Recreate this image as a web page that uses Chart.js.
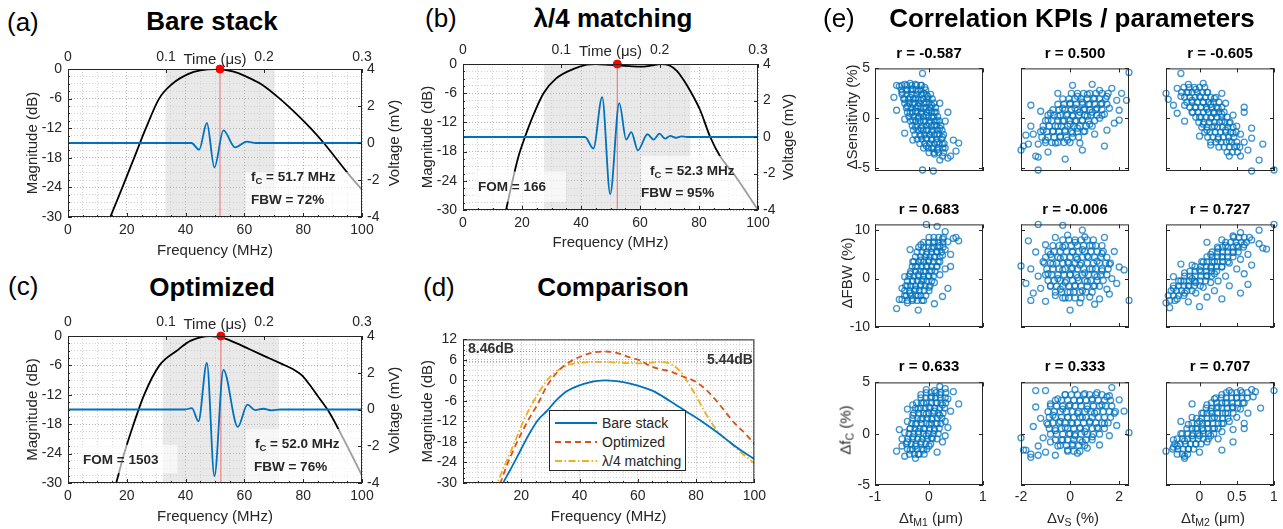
<!DOCTYPE html>
<html><head><meta charset="utf-8">
<script src="https://cdn.jsdelivr.net/npm/chart.js@4.4.1/dist/chart.umd.min.js"></script>
<style>
body{margin:0;width:1283px;height:529px;background:#fff;position:relative;overflow:hidden;font-family:"Liberation Sans",Arial,Helvetica,sans-serif;}
canvas{position:absolute;}
.t{position:absolute;white-space:nowrap;color:#262626;line-height:1;}
.ttl{font-weight:bold;font-size:26px;color:#000;transform:translate(-50%,-50%);}
.let{font-size:26px;color:#000;transform:translateY(-50%);}
.lab{font-size:15px;font-weight:normal;transform:translate(-50%,-50%);}
.rot{transform:translate(-50%,-50%) rotate(-90deg);}
.ann{font-weight:bold;font-size:13.5px;transform:translateY(-50%);}
.rr{font-weight:bold;font-size:15px;color:#000;transform:translate(-50%,-50%);}
sub{font-size:70%;vertical-align:-0.3em;line-height:0;}
#leg{position:absolute;background:#fff;border:1px solid #262626;box-sizing:border-box;}
#leg .row{position:absolute;left:0;height:18px;font-size:14px;color:#262626;line-height:18px;white-space:nowrap;}
#leg svg{position:absolute;left:5px;top:4px;}
#leg span{position:absolute;left:52px;top:0;}
</style></head>
<body>
<script>
// ================= DATA =================
// (a) Bare stack
const fBare  = [12.5, 14.4, 18.5, 22.5, 26.5, 31, 35.5, 41, 45, 50, 56, 60.5, 65.5, 72, 77.5, 82.5, 87, 91, 95, 100];
const dbBare = [-33, -30, -24, -18, -12, -6, -3, -1, -0.3, 0, -0.5, -1.5, -3, -6, -9, -12, -15, -18, -21, -24.5];
const tBare  = [0, 0.126, 0.1338, 0.1417, 0.1494, 0.1586, 0.1705, 0.1824, 0.192, 0.3];
const vBare  = [0, 0, -0.36, 1.08, -1.32, 0.68, -0.24, 0.07, 0, 0];
const fcBare = 51.7, bandBare = [33.1, 70.3];
// (b) lambda/4 matching
const fQw  = [12.5, 14.6, 16.6, 18.8, 21, 23.5, 27.3, 31.5, 37.5, 42, 45, 50, 55, 60, 64, 67, 70, 72.5, 75, 77, 80.4, 83.8, 87.2, 91.7, 96.3, 100];
const dbQw = [-36, -30, -24.5, -19, -15, -11, -6, -3, -1, -0.15, 0, -0.2, -0.4, -0.55, -0.3, 0, -0.3, -1.4, -3.5, -5.5, -9.5, -15, -19, -22.5, -26.6, -30];
const tQw  = [0, 0.124, 0.1326, 0.1415, 0.1497, 0.1589, 0.166, 0.1711, 0.1779, 0.1876, 0.1937, 0.1998, 0.2056, 0.2107, 0.2165, 0.222, 0.228, 0.3];
const vQw  = [0, 0, -0.63, 2.19, -3.13, 1.86, -0.14, 0.27, -0.73, 0.15, -0.14, 0.18, -0.09, 0.06, -0.04, 0.03, 0, 0];
const fcQw = 52.3, bandQw = [27.45, 77.1];
// (c) Optimized
const fOpt  = [14, 16.4, 19.1, 22.3, 25.9, 31.1, 37, 41.6, 48.3, 53.2, 57, 61.4, 67.6, 72.7, 76.6, 79.5, 82, 85, 89.1, 93.7, 97.1, 100];
const dbOpt = [-35, -30, -24, -18, -12, -6, -3, -1, 0, -0.5, -1.4, -2.6, -4.3, -5.7, -6.8, -8, -9.8, -12.3, -15.8, -21, -25, -28.5];
const tOpt  = [0, 0.1196, 0.1264, 0.1331, 0.1417, 0.1494, 0.1586, 0.1733, 0.1831, 0.1909, 0.1994, 0.208, 0.2165, 0.3];
const vOpt  = [0, 0, 0.08, -0.64, 2.53, -3.62, 2.16, -0.95, 0.26, -0.03, 0.04, -0.05, 0, 0];
const fcOpt = 52.0, bandOpt = [32.2, 71.8];
// (d) Comparison
const fCmpBare = [12, 13.8, 16, 18.5, 22.5, 25.6, 28.9, 31.5, 35.6, 41.5, 49, 55, 60, 65, 71, 76.5, 82, 87, 91.5, 96, 100];
const dbCmpBare = [-34, -30, -26.5, -22.5, -16, -11.7, -8.85, -6.3, -3.2, -1, 0, -0.5, -1.5, -3, -6, -9, -12, -15, -18, -20.8, -23];
const fCmpOpt = [11, 12.9, 15, 17.5, 20, 22.8, 25.6, 28.9, 33, 37, 41.6, 45, 49, 53, 57, 61, 64, 68, 71, 75, 79.5, 84, 88.4, 92.9, 97.4, 100];
const dbCmpOpt = [-36, -30, -25, -20, -15.5, -11, -7, -1.5, 3, 5.6, 7.4, 8.2, 8.46, 8, 6.8, 5.8, 4.3, 3.2, 2.7, 1.3, -0.2, -3.2, -7.4, -12.2, -16, -18.6];
const fCmpQw = [10, 11.9, 14, 16.5, 19, 21.1, 25.6, 28.9, 31.5, 36, 42, 47, 52, 57, 62, 67, 70, 72.5, 75, 77.5, 80, 82.5, 85, 88, 92, 96, 100];
const dbCmpQw = [-36, -30, -25.5, -20.5, -15.5, -11.2, -4.1, 0.1, 2.3, 4.5, 5.3, 5.44, 5.25, 5.05, 5.0, 5.4, 5.2, 4.2, 2.2, -1, -4.5, -8.5, -12, -15.5, -18.5, -21.5, -24.2];
const peakOpt = 8.46, peakQw = 5.44;
const seriesNames = ['Bare stack', 'Optimized', '\u03bb/4 matching'];
// tick labels
const fMajor = [0, 20, 40, 60, 80, 100];
const tMajor = [0, 0.1, 0.2, 0.3];
const vMajor = [-4, -2, 0, 2, 4];
const dbMajor = [-30, -24, -18, -12, -6, 0];
const dbMajorCmp = [-30, -24, -18, -12, -6, 0, 6, 12];
const fMinorStep = 5, dbMinorStep = 1.5;

// (e) scatter, scattered points: flat [x, y, x, y, ...]
const sSensM1 = [-0.55,3.2,-0.45,3.4,-0.35,3.5,-0.25,3.4,-0.15,3.3,-0.08,3.1,-0.5,2.6,-0.4,2.8,-0.3,2.9,-0.2,2.7,-0.1,2.5,-0.02,2.2,
-0.45,1.9,-0.35,2.1,-0.25,2.0,-0.15,1.8,-0.05,1.6,0.05,1.3,-0.4,1.2,-0.3,1.4,-0.2,1.2,-0.1,1.0,0.0,0.8,0.1,0.6,
-0.35,0.5,-0.25,0.7,-0.15,0.4,-0.05,0.3,0.05,0.1,0.15,-0.2,-0.3,-0.2,-0.2,0.0,-0.1,-0.3,0.0,-0.5,0.1,-0.7,0.2,-1.0,
-0.25,-0.9,-0.15,-1.0,-0.05,-1.2,0.05,-1.4,0.15,-1.6,0.25,-1.9,-0.15,-1.8,-0.05,-2.0,0.05,-2.2,0.15,-2.4,0.25,-2.6,
-0.05,-2.8,0.05,-3.0,0.15,-3.2,0.3,-3.0,0.1,-3.6,0.25,-3.8,-0.12,4.5,-0.65,2.1,-0.6,0.8,-0.45,-0.1,-0.3,-2.2,0.35,0.6,
0.3,-0.3,0.45,-2.2,0.55,-2.5,0.5,-3.3,0.4,-3.8,0.2,-4.2,-0.12,-5.2,0.08,-5.3,-0.6,3.3,0.2,1.5,-0.45,-1.5,0.35,-4.0];
const sSensVs = [-2.0,-3.2,-1.8,-1.7,-1.7,-2.6,-1.6,-0.8,-1.4,-3.8,-1.5,-1.6,-1.3,-2.6,-1.2,0.7,-1.1,-1.2,-1.0,-2.2,-0.9,-0.2,-0.9,-3.4,
-0.8,0.5,-0.7,-1.3,-0.6,-2.5,-0.5,0.2,-0.5,-0.8,-0.4,-1.8,-0.3,1.0,-0.3,-0.3,-0.2,-1.2,-0.1,0.4,-0.1,-2.2,0.0,1.5,
0.0,-0.6,0.1,0.2,0.1,-1.5,0.2,1.0,0.2,-0.3,0.3,2.2,0.3,-1.0,0.4,0.6,0.4,-2.5,0.5,1.6,0.5,-0.2,0.6,0.9,0.6,-1.3,
0.7,2.4,0.7,0.2,0.8,1.4,0.8,-0.6,0.9,0.6,1.0,2.0,1.0,-1.6,1.1,1.0,1.2,0.0,1.2,2.8,1.3,1.5,1.4,0.4,1.5,-1.2,
1.5,2.2,1.6,1.0,1.7,3.0,1.8,-0.5,1.9,1.8,2.0,0.8,2.1,2.5,2.3,1.8,2.4,4.6,-1.3,-3.9,-1.3,-5.2,-0.5,2.5,0.1,3.3,
0.9,3.4,1.4,-2.8,0.5,-3.2,-1.6,1.3,-0.2,-4.1,2.0,-0.2,-1.9,-2.8];
const sSensM2 = [-0.45,2.5,-0.35,1.3,-0.3,3.0,-0.25,2.2,-0.2,1.3,-0.15,3.4,-0.15,2.6,-0.1,1.8,-0.1,0.6,-0.05,2.9,-0.05,1.1,0.0,2.2,
0.0,0.1,0.05,1.6,0.05,-0.6,0.1,2.6,0.1,0.9,0.1,-1.2,0.15,1.4,0.15,0.0,0.2,2.0,0.2,0.5,0.2,-0.8,0.25,-2.1,0.25,1.0,
0.3,-0.3,0.3,0.4,0.35,-1.2,0.35,1.5,0.4,-0.5,0.4,-2.3,0.45,0.3,0.45,-1.5,0.5,-0.8,0.5,-2.8,0.55,-1.6,0.6,0.6,
0.6,-2.4,0.65,-3.2,0.7,-1.0,0.7,-2.0,-0.3,0.5,-0.2,-0.3,0.0,-1.8,0.05,3.5,0.3,2.5,0.4,-3.8,0.8,-4.2,0.85,-2.6,
0.7,-5.3,1.0,-5.2,-0.25,4.5,-0.42,1.9,0.6,1.1,0.15,-2.7,0.55,-3.8];
const sFbwM1 = [-0.6,-6.2,-0.55,-4.3,-0.5,-2.0,-0.45,-3.5,-0.45,0.4,-0.4,-5.0,-0.4,-1.5,-0.35,-3.0,-0.35,1.0,-0.3,-4.2,-0.3,-0.5,-0.25,-2.2,
-0.25,2.5,-0.2,-3.5,-0.2,0.8,-0.15,-1.2,-0.15,3.8,-0.1,-4.5,-0.1,1.5,-0.1,-0.2,-0.05,5.0,-0.05,2.6,0.0,-1.8,0.0,0.5,
0.0,3.8,0.05,6.2,0.05,1.6,0.1,-0.8,0.1,4.5,0.1,7.6,0.15,2.5,0.15,5.6,0.2,0.8,0.2,3.5,0.2,6.8,0.25,8.2,0.25,4.8,
0.3,2.0,0.3,6.0,0.35,7.6,0.4,5.0,0.45,8.3,-0.05,11.2,0.15,10.8,0.55,7.8,0.5,8.5,-0.35,6.0,0.1,-5.2,-0.2,-6.5,0.35,-2.0,
-0.5,-4.3,0.3,9.7,-0.3,3.5,0.25,-3.7,-0.15,7.0,0.4,2.5];
const sFbwVs = [-2.0,2.6,-1.8,-1.0,-1.6,2.0,-1.5,-3.0,-1.4,5.5,-1.3,0.5,-1.2,-2.0,-1.1,3.5,-1.0,-4.7,-1.0,7.0,-0.9,1.0,-0.8,-1.5,
-0.8,5.0,-0.7,3.0,-0.6,-3.5,-0.6,8.5,-0.5,0.0,-0.4,4.2,-0.4,-2.2,-0.3,6.5,-0.3,1.8,-0.2,-4.0,-0.2,-0.8,-0.1,3.4,
-0.1,9.0,0.0,0.8,0.0,-2.8,0.1,5.5,0.1,2.2,0.2,-1.4,0.2,7.5,0.3,0.2,0.3,4.0,0.4,-5.0,0.4,2.8,0.5,6.0,0.5,-2.5,
0.6,1.2,0.6,8.6,0.7,-0.6,0.7,4.6,0.8,-3.8,0.9,2.0,0.9,6.8,1.0,-1.5,1.1,3.6,1.1,0.4,1.2,-4.2,1.3,5.2,1.3,1.6,
1.4,8.5,1.5,-2.2,1.6,3.0,1.7,0.0,1.8,5.6,1.9,-1.0,2.0,2.4,2.2,1.8,2.4,-4.5,-1.3,11.2,-0.3,11.0,0.5,10.0,-1.6,-4.5,
0.0,-6.5,1.0,-5.3,1.6,-3.2,-1.7,7.8];
const sFbwM2 = [-0.45,-5.0,-0.35,-2.0,-0.3,-4.2,-0.25,-0.5,-0.2,-3.0,-0.2,1.2,-0.15,-4.8,-0.15,-1.5,-0.1,0.0,-0.1,2.8,-0.05,-3.0,-0.05,-0.8,
0.0,1.8,0.0,-5.8,0.05,-1.8,0.05,3.4,0.1,0.6,0.1,-3.8,0.15,2.2,0.15,5.0,0.15,-0.8,0.2,-2.5,0.2,3.5,0.2,1.0,0.25,6.2,
0.25,-0.5,0.3,2.4,0.3,4.5,0.3,8.0,0.35,0.5,0.35,6.8,0.4,3.2,0.4,-1.5,0.45,5.4,0.45,8.8,0.5,2.0,0.5,6.8,0.55,4.0,
0.55,9.5,0.6,7.0,0.6,1.0,0.65,5.0,0.65,-1.2,0.7,8.0,0.8,10.0,0.85,6.3,0.9,6.1,1.0,11.2,0.8,7.2,-0.4,-6.0,0.3,-4.2,
0.7,2.8,-0.25,3.0,0.1,7.5,0.55,-3.0,-0.35,0.4];
const sFcM1 = [-0.6,-1.7,-0.55,0.4,-0.5,-1.2,-0.45,-2.2,-0.45,0.1,-0.4,-0.8,-0.4,1.2,-0.35,-1.6,-0.35,0.5,-0.3,-0.3,-0.3,1.8,-0.25,-1.2,
-0.25,0.9,-0.2,-2.0,-0.2,0.2,-0.2,2.4,-0.15,-0.8,-0.15,1.4,-0.1,0.5,-0.1,3.0,-0.1,-1.6,-0.05,1.9,-0.05,-0.2,0.0,2.6,
0.0,0.9,0.0,-1.2,0.05,3.6,0.05,1.4,0.05,-0.4,0.1,2.2,0.1,0.3,0.1,4.2,0.15,3.0,0.15,1.0,0.2,3.8,0.2,1.8,0.25,-0.8,
0.25,2.8,0.3,4.4,0.3,1.2,0.35,3.4,0.4,2.2,0.45,4.1,0.55,2.9,-0.3,2.8,-0.05,4.3,-0.25,-2.4,0.15,-1.8,-0.5,-0.5,0.3,-0.2,
0.2,4.6,-0.4,2.4,0.35,0.6,-0.15,3.8];
const sFcVs = [-2.0,-0.4,-1.8,-1.6,-1.6,-2.0,-1.5,0.7,-1.4,2.6,-1.3,-1.2,-1.2,1.5,-1.1,-0.4,-1.0,4.2,-1.0,-1.8,-0.9,0.9,-0.8,2.9,
-0.8,-0.8,-0.7,1.8,-0.6,-2.1,-0.6,0.3,-0.5,3.4,-0.5,-1.2,-0.4,1.2,-0.3,2.4,-0.3,-0.6,-0.2,0.6,-0.2,3.8,-0.1,-1.6,
-0.1,1.6,0.0,0.0,0.0,2.8,0.1,-1.0,0.1,1.0,0.2,4.3,0.2,-0.2,0.3,2.0,0.3,-1.9,0.4,0.6,0.4,3.2,0.5,-0.8,0.5,1.6,
0.6,3.9,0.6,0.2,0.7,2.4,0.7,-1.4,0.8,1.2,0.9,3.4,0.9,-0.3,1.0,2.0,1.1,0.6,1.1,4.0,1.2,-1.1,1.3,2.8,1.4,1.0,
1.5,3.6,1.6,-0.2,1.7,4.5,1.8,2.0,1.9,0.8,2.0,3.3,2.2,2.2,2.4,0.1,-1.9,-1.6,-1.4,4.2,-1.6,-2.3,1.6,3.7,-1.3,-2.1];
const sFcM2 = [-0.45,-1.7,-0.35,-0.6,-0.3,-1.2,-0.25,0.0,-0.2,-2.2,-0.2,-0.7,-0.15,0.9,-0.15,-1.5,-0.1,-0.2,-0.1,1.6,-0.05,-1.0,-0.05,0.5,
0.0,-1.8,0.0,1.2,0.0,-0.2,0.05,2.0,0.05,0.3,0.1,-0.8,0.1,2.8,0.1,1.0,0.15,-0.2,0.15,2.2,0.2,0.5,0.2,3.4,0.2,1.6,
0.25,-0.5,0.25,2.6,0.3,1.0,0.3,3.8,0.3,0.2,0.35,2.0,0.35,3.0,0.4,1.2,0.4,4.2,0.45,2.6,0.45,0.4,0.5,3.5,0.5,1.6,
0.55,4.2,0.55,2.4,0.6,3.0,0.6,1.0,0.65,2.0,0.7,4.3,0.72,3.6,0.82,2.5,1.0,4.2,0.75,4.1,-0.2,-2.4,-0.1,2.9,0.6,0.5,
-0.25,1.2,0.3,-1.6,0.45,-0.8,-0.35,-1.3];

// (e) dense cores, read row by row: [y, x1, x2, ...]
const coreSensM1 = [[3.3,-0.5,-0.41,-0.32,-0.23,-0.14],[2.85,-0.51,-0.42,-0.33,-0.24,-0.15,-0.06],[2.4,-0.5,-0.41,-0.32,-0.23,-0.14,-0.05,0.03],
[1.95,-0.47,-0.38,-0.29,-0.2,-0.11,-0.02,0.06],[1.5,-0.45,-0.36,-0.27,-0.18,-0.09,0.0,0.09],[1.05,-0.42,-0.33,-0.24,-0.15,-0.06,0.03,0.12],
[0.6,-0.4,-0.31,-0.22,-0.13,-0.04,0.05,0.13],[0.15,-0.37,-0.28,-0.19,-0.1,-0.01,0.08,0.16],[-0.3,-0.34,-0.25,-0.16,-0.07,0.02,0.11,0.19],
[-0.75,-0.31,-0.22,-0.13,-0.04,0.05,0.14,0.22],[-1.2,-0.29,-0.2,-0.11,-0.02,0.07,0.16,0.24],[-1.65,-0.26,-0.17,-0.08,0.01,0.1,0.19,0.27],
[-2.1,-0.22,-0.13,-0.04,0.05,0.14,0.23],[-2.55,-0.17,-0.08,0.01,0.1,0.19,0.28],[-3.0,-0.1,-0.01,0.08,0.17,0.26],[-3.45,0.0,0.09,0.18,0.27]];
const coreSensVs = [[2.5,0.05,0.3,0.55,0.8,1.05,1.3,1.55],[1.95,-0.3,-0.05,0.2,0.45,0.7,0.95,1.2,1.45],[1.4,-0.5,-0.25,0.0,0.25,0.5,0.75,1.0,1.25,1.5],
[0.85,-0.7,-0.45,-0.2,0.05,0.3,0.55,0.8,1.05,1.3],[0.3,-0.9,-0.65,-0.4,-0.15,0.1,0.35,0.6,0.85,1.1,1.3],[-0.25,-1.0,-0.75,-0.5,-0.25,0.0,0.25,0.5,0.75,1.0],
[-0.8,-1.1,-0.85,-0.6,-0.35,-0.1,0.15,0.4,0.65,0.9],[-1.35,-1.2,-0.95,-0.7,-0.45,-0.2,0.05,0.3,0.55],[-1.9,-1.15,-0.9,-0.65,-0.4,-0.15,0.1,0.35],
[-2.45,-1.0,-0.75,-0.5,-0.25,0.0]];
const coreSensM2 = [[3.1,-0.21,-0.14,-0.07,0.0,0.07],[2.6,-0.24,-0.17,-0.1,-0.03,0.04,0.11],[2.1,-0.2,-0.13,-0.06,0.01,0.08,0.15,0.22],
[1.6,-0.17,-0.1,-0.03,0.05,0.12,0.19,0.26],[1.1,-0.13,-0.06,0.02,0.09,0.16,0.23,0.3],[0.6,-0.09,-0.02,0.05,0.12,0.19,0.26,0.33],
[0.1,-0.05,0.02,0.09,0.16,0.23,0.3,0.37],[-0.4,-0.01,0.06,0.13,0.2,0.27,0.34,0.41],[-0.9,0.03,0.1,0.17,0.24,0.31,0.38,0.45],
[-1.4,0.07,0.14,0.21,0.28,0.35,0.42,0.49],[-1.9,0.11,0.18,0.25,0.32,0.39,0.46],[-2.4,0.15,0.22,0.29,0.36,0.43,0.5],
[-2.9,0.26,0.33,0.4,0.47,0.54],[-3.4,0.37,0.44,0.51]];
const coreFbwM1 = [[8.5,0.0,0.09,0.18,0.27],[7.5,-0.1,-0.01,0.08,0.17,0.26],[6.5,-0.19,-0.1,-0.01,0.08,0.17,0.26],[5.5,-0.22,-0.13,-0.04,0.05,0.14,0.23],
[4.5,-0.25,-0.16,-0.07,0.02,0.11,0.2],[3.5,-0.28,-0.19,-0.1,-0.01,0.08,0.17],[2.5,-0.31,-0.22,-0.13,-0.04,0.05,0.14],[1.5,-0.34,-0.25,-0.16,-0.07,0.02,0.11],
[0.5,-0.37,-0.28,-0.19,-0.1,-0.01,0.08],[-0.5,-0.4,-0.31,-0.22,-0.13,-0.04,0.05],[-1.5,-0.43,-0.34,-0.25,-0.16,-0.07,0.02],[-2.5,-0.45,-0.36,-0.27,-0.18,-0.09,0.0],
[-3.5,-0.42,-0.33,-0.24,-0.15,-0.06],[-4.5,-0.4,-0.31,-0.22,-0.13]];
const coreFbwVs = [[8.0,-0.3,-0.05,0.2,0.45,0.7,0.95],[6.8,-0.7,-0.45,-0.2,0.05,0.3,0.55,0.8,1.05,1.3],[5.6,-0.9,-0.65,-0.4,-0.15,0.1,0.35,0.6,0.85,1.1,1.35],
[4.4,-1.0,-0.75,-0.5,-0.25,0.0,0.25,0.5,0.75,1.0,1.25,1.5],[3.2,-1.05,-0.8,-0.55,-0.3,-0.05,0.2,0.45,0.7,0.95,1.2,1.45,1.65],
[2.0,-0.95,-0.7,-0.45,-0.2,0.05,0.3,0.55,0.8,1.05,1.3,1.55],[0.8,-1.0,-0.75,-0.5,-0.25,0.0,0.25,0.5,0.75,1.0,1.25,1.5],
[-0.4,-0.9,-0.65,-0.4,-0.15,0.1,0.35,0.6,0.85,1.1,1.35],[-1.6,-0.8,-0.55,-0.3,-0.05,0.2,0.45,0.7,0.95,1.2],[-2.8,-0.6,-0.35,-0.1,0.15,0.4,0.65,0.9],
[-4.0,-0.3,-0.05,0.2,0.45]];
const coreFbwM2 = [[8.5,0.46,0.53,0.6,0.67],[7.5,0.35,0.42,0.49,0.56,0.63],[6.5,0.24,0.31,0.38,0.45,0.52,0.59],[5.5,0.17,0.24,0.31,0.38,0.45,0.52],
[4.5,0.1,0.17,0.24,0.31,0.38,0.45],[3.5,0.03,0.1,0.17,0.24,0.31,0.38],[2.5,-0.06,0.02,0.09,0.16,0.23,0.3],[1.5,-0.13,-0.06,0.02,0.09,0.16,0.23],
[0.5,-0.2,-0.13,-0.06,0.02,0.09,0.16],[-0.5,-0.28,-0.21,-0.14,-0.07,0.01,0.08],[-1.5,-0.35,-0.28,-0.21,-0.14,-0.07,0.01],[-2.5,-0.38,-0.31,-0.24,-0.17,-0.1],
[-3.5,-0.42,-0.35,-0.28,-0.21],[-4.5,-0.4,-0.33]];
const coreFcM1 = [[4.0,-0.05,0.04,0.13,0.22,0.31],[3.5,-0.15,-0.06,0.03,0.12,0.21,0.3],[3.0,-0.23,-0.14,-0.05,0.04,0.13,0.22,0.31],
[2.5,-0.25,-0.16,-0.07,0.02,0.11,0.2,0.29],[2.0,-0.28,-0.19,-0.1,-0.01,0.08,0.17,0.26],[1.5,-0.3,-0.21,-0.12,-0.03,0.06,0.15,0.24],
[1.0,-0.32,-0.23,-0.14,-0.05,0.04,0.13,0.22],[0.5,-0.35,-0.26,-0.17,-0.08,0.01,0.1,0.19],[0.0,-0.37,-0.28,-0.19,-0.1,-0.01,0.08,0.17],
[-0.5,-0.39,-0.3,-0.21,-0.12,-0.03,0.06,0.15],[-1.0,-0.42,-0.33,-0.24,-0.15,-0.06,0.03],[-1.5,-0.4,-0.31,-0.22,-0.13,-0.04],[-2.0,-0.36,-0.27,-0.18,-0.09]];
const coreFcVs = [[3.8,-0.2,0.05,0.3,0.55,0.8,1.05,1.3],[3.25,-0.6,-0.35,-0.1,0.15,0.4,0.65,0.9,1.15,1.4,1.65],
[2.7,-0.8,-0.55,-0.3,-0.05,0.2,0.45,0.7,0.95,1.2,1.45,1.7],[2.15,-0.9,-0.65,-0.4,-0.15,0.1,0.35,0.6,0.85,1.1,1.35,1.6,1.85],
[1.6,-0.85,-0.6,-0.35,-0.1,0.15,0.4,0.65,0.9,1.15,1.4,1.65],[1.05,-0.95,-0.7,-0.45,-0.2,0.05,0.3,0.55,0.8,1.05,1.3,1.55],
[0.5,-0.85,-0.6,-0.35,-0.1,0.15,0.4,0.65,0.9,1.15,1.4],[-0.05,-0.8,-0.55,-0.3,-0.05,0.2,0.45,0.7,0.95,1.2],
[-0.6,-0.6,-0.35,-0.1,0.15,0.4,0.65,0.9],[-1.15,-0.4,-0.15,0.1,0.35,0.6],[-1.7,-0.1,0.15,0.4]];
const coreFcM2 = [[4.0,0.36,0.43,0.5,0.57,0.64],[3.5,0.22,0.29,0.36,0.43,0.5,0.57,0.64],[3.0,0.16,0.23,0.3,0.37,0.44,0.51,0.58],
[2.5,0.09,0.16,0.23,0.3,0.37,0.44,0.51],[2.0,0.03,0.1,0.17,0.24,0.31,0.38,0.45],[1.5,-0.04,0.03,0.1,0.17,0.24,0.31,0.38],
[1.0,-0.1,-0.03,0.04,0.11,0.18,0.25,0.32],[0.5,-0.17,-0.1,-0.03,0.04,0.11,0.18,0.25],[0.0,-0.23,-0.16,-0.09,-0.02,0.05,0.12,0.19],
[-0.5,-0.3,-0.23,-0.16,-0.09,-0.02,0.05,0.12],[-1.0,-0.33,-0.26,-0.19,-0.12,-0.05,0.02],[-1.5,-0.36,-0.29,-0.22,-0.15,-0.08],[-2.0,-0.3,-0.23,-0.16]];

const rValues = [['-0.587','0.500','-0.605'],['0.683','-0.006','0.727'],['0.633','0.333','0.707']];
const xRangeM1 = [-1, 1], xTickM1 = [-1, 0, 1];
const xRangeVs = [-2, 2.4], xTickVs = [-2, 0, 2];
const xRangeM2 = [-0.45, 1], xTickM2 = [0, 0.5, 1];
const yRangeSens = [-5.3, 5], yTickSens = [-5, 0, 5];
const yRangeFbw = [-10, 11.2], yTickFbw = [-10, 0, 10];
const yRangeFc = [-5, 5], yTickFc = [-5, 0, 5];

// ================= HELPERS =================
const FF = '"Liberation Sans", Arial, Helvetica, sans-serif';
const TXT = '#262626';
Chart.defaults.font.family = FF;
Chart.defaults.color = TXT;
const BLUE = '#0072BD', RED = '#D95319', YEL = '#EDB120';

function zip(xs, ys) { return xs.map((x, i) => ({x: x, y: ys[i]})); }
function pairs(a) { const o = []; for (let i = 0; i < a.length; i += 2) o.push({x: a[i], y: a[i + 1]}); return o; }
function rows(r) { const o = []; r.forEach(row => { for (let i = 1; i < row.length; i++) o.push({x: row[i], y: row[0]}); }); return o; }
function steps(min, max, st) { const o = []; for (let v = min; v <= max + 1e-9; v += st) o.push(Math.round(v * 1000) / 1000); return o; }
function mkCanvas(x, y, w, h) {
  const c = document.createElement('canvas');
  c.width = w; c.height = h;
  c.style.left = x + 'px'; c.style.top = y + 'px';
  c.style.width = w + 'px'; c.style.height = h + 'px';
  document.body.appendChild(c);
  return c;
}
function txt(html, x, y, cls, style) {
  const d = document.createElement('div');
  d.className = 't ' + cls; d.innerHTML = html;
  d.style.left = x + 'px'; d.style.top = y + 'px';
  if (style) d.style.cssText += style;
  document.body.appendChild(d);
  return d;
}
const isIn = (arr, v) => arr.some(m => Math.abs(m - v) < 1e-6);

function scale(pos, min, max, ticks, majors, showLbl, size, pad, title, grid) {
  return {
    type: 'linear', position: pos, min: min, max: max,
    afterBuildTicks: s => { s.ticks = ticks.map(v => ({value: v})); },
    afterFit: s => { if (s.isHorizontal()) s.height = size; else s.width = size; },
    ticks: {autoSkip: false, maxRotation: 0, minRotation: 0, padding: pad, color: TXT,
      font: {family: FF, size: 14},
      callback: v => (showLbl && isIn(majors, v)) ? String(v) : ''},
    grid: grid ? {drawTicks: false, lineWidth: 1,
      color: c => (c.tick && isIn(majors, c.tick.value)) ? '#b4b4b4' : '#d2d2d2'}
      : {display: false, drawTicks: false},
    border: {display: false, dash: [1, 2]},
    title: title ? {display: true, text: title, color: TXT, font: {family: FF, size: 15}, padding: {top: 2, bottom: 0}} : {display: false}
  };
}

const boxp = {
  id: 'boxp',
  beforeDraw(chart, args, o) {
    if (!o || !o.shade) return;
    const ctx = chart.ctx, a = chart.chartArea, x = chart.scales.x;
    const x1 = x.getPixelForValue(o.shade[0]), x2 = x.getPixelForValue(o.shade[1]);
    ctx.save(); ctx.fillStyle = '#e9e9e9'; ctx.fillRect(x1, a.top, x2 - x1, a.bottom - a.top); ctx.restore();
  },
  afterDatasetsDraw(chart, args, o) {
    if (!o || !o.boxes) return;
    const ctx = chart.ctx, x = chart.scales.x, y = chart.scales.y;
    ctx.save(); ctx.fillStyle = 'rgba(255,255,255,0.62)';
    for (const b of o.boxes) {
      const x1 = x.getPixelForValue(b[0]), x2 = x.getPixelForValue(b[1]);
      const y1 = y.getPixelForValue(b[3]), y2 = y.getPixelForValue(b[2]);
      ctx.fillRect(x1, y1, x2 - x1, y2 - y1);
    }
    ctx.restore();
  },
  afterDraw(chart, args, o) {
    if (!o || !o.frame) return;
    const ctx = chart.ctx, a = chart.chartArea;
    ctx.save(); ctx.strokeStyle = TXT; ctx.lineWidth = 1;
    for (const id of Object.keys(chart.scales)) {
      const s = chart.scales[id];
      for (const t of s.ticks) {
        const major = o.allMajor || (t.label !== '' && t.label !== undefined);
        const len = major ? 4 : 2;
        const p = Math.round(s.getPixelForValue(t.value)) + 0.5;
        ctx.beginPath();
        if (s.isHorizontal()) {
          if (s.position === 'bottom' || o.mirror) { ctx.moveTo(p, a.bottom); ctx.lineTo(p, a.bottom - len); }
          if (s.position === 'top' || o.mirror) { ctx.moveTo(p, a.top); ctx.lineTo(p, a.top + len); }
        } else {
          if (s.position === 'left' || o.mirror) { ctx.moveTo(a.left, p); ctx.lineTo(a.left + len, p); }
          if (s.position === 'right' || o.mirror) { ctx.moveTo(a.right, p); ctx.lineTo(a.right - len, p); }
        }
        ctx.stroke();
      }
    }
    ctx.strokeRect(a.left + 0.5, a.top + 0.5, a.right - a.left - 1, a.bottom - a.top - 1);
    ctx.restore();
  }
};
Chart.register(boxp);

const fTicks = steps(0, 100, fMinorStep);
const dbTicks = steps(-30, 0, dbMinorStep);
const dbTicksCmp = steps(-30, 12, dbMinorStep);

function freqPanel(P, f, db, t, v, fc, band, boxes) {
  const ML = 46, MR = 38;
  const cv = mkCanvas(P.L - ML, P.T - P.MT, P.W + ML + MR, P.H + P.MT + P.MB);
  const ds = [
    {data: [{x: fc, y: 0}], xAxisID: 'x', yAxisID: 'y', showLine: false, pointRadius: 4,
      pointBackgroundColor: '#ff0000', pointBorderColor: '#ff0000', clip: false},
    {data: zip(t, v), xAxisID: 'x2', yAxisID: 'y2', borderColor: BLUE, borderWidth: 1.8,
      pointRadius: 0, cubicInterpolationMode: 'monotone', fill: false},
    {data: [{x: fc, y: -30}, {x: fc, y: 0}], xAxisID: 'x', yAxisID: 'y', borderColor: 'rgba(240,70,70,0.75)',
      borderWidth: 1, pointRadius: 0},
    {data: zip(f, db), xAxisID: 'x', yAxisID: 'y', borderColor: '#000', borderWidth: 1.8,
      pointRadius: 0, cubicInterpolationMode: 'monotone', fill: false}
  ];
  new Chart(cv, {type: 'line', data: {datasets: ds}, options: {
    responsive: false, animation: false, events: [], devicePixelRatio: 1,
    layout: {padding: 0},
    plugins: {legend: {display: false}, tooltip: {enabled: false},
      boxp: {shade: band, boxes: boxes, frame: true}},
    scales: {
      x: scale('bottom', 0, 100, fTicks, fMajor, true, P.MB, 5, 'Frequency (MHz)', true),
      x2: scale('top', 0, 0.3, tMajor, tMajor, true, P.MT, P.tpad, 'Time (\u03bcs)', false),
      y: scale('left', -30, 0, dbTicks, dbMajor, true, ML, 6, 'Magnitude (dB)', true),
      y2: scale('right', -4, 4, vMajor, vMajor, true, MR, 5, null, false)
    }
  }});
}

// ================= PANELS a, b, c =================
const PA = {L: 68, T: 69, W: 294, H: 148, MT: 20, MB: 43, tpad: 3};
const PB = {L: 463, T: 64, W: 295, H: 146, MT: 23, MB: 42, tpad: 5};
const PC = {L: 68, T: 336, W: 294, H: 147, MT: 22, MB: 43, tpad: 5};
freqPanel(PA, fBare, dbBare, tBare, vBare, fcBare, bandBare, [[60.4, 100, -30, -20.9]]);
freqPanel(PB, fQw, dbQw, tQw, vQw, fcQw, bandQw, [[3.3, 34.9, -28.3, -22.1], [60.4, 100, -30, -18.9]]);
freqPanel(PC, fOpt, dbOpt, tOpt, vOpt, fcOpt, bandOpt, [[3.8, 37.2, -28, -22.2], [60.5, 100, -30, -19.0]]);

// ================= PANEL d =================
(function () {
  const P = {L: 463, T: 335, W: 298, H: 148};
  const ML = 46, MB = 43, PT = 10, PR = 10;
  const cv = mkCanvas(P.L - ML, P.T - PT, P.W + ML + PR, P.H + PT + MB);
  const ds = [
    {data: zip(fCmpBare, dbCmpBare), borderColor: BLUE, borderWidth: 1.8, pointRadius: 0, cubicInterpolationMode: 'monotone'},
    {data: zip(fCmpOpt, dbCmpOpt), borderColor: RED, borderWidth: 1.8, borderDash: [6, 4], pointRadius: 0, cubicInterpolationMode: 'monotone'},
    {data: zip(fCmpQw, dbCmpQw), borderColor: YEL, borderWidth: 1.8, borderDash: [7, 2.5, 1.5, 2.5], pointRadius: 0, cubicInterpolationMode: 'monotone'},
    {data: [{x: 0, y: peakOpt}, {x: 100, y: peakOpt}], borderColor: '#8c8c8c', borderWidth: 1.2, borderDash: [1, 2], pointRadius: 0},
    {data: [{x: 0, y: peakQw}, {x: 100, y: peakQw}], borderColor: '#8c8c8c', borderWidth: 1.2, borderDash: [1, 2], pointRadius: 0}
  ];
  new Chart(cv, {type: 'line', data: {datasets: ds}, options: {
    responsive: false, animation: false, events: [], devicePixelRatio: 1,
    layout: {padding: {top: PT, right: PR}},
    plugins: {legend: {display: false}, tooltip: {enabled: false}, boxp: {frame: true}},
    scales: {
      x: scale('bottom', 0, 100, fTicks, fMajor.filter(v => v > 0), true, MB, 5, 'Frequency (MHz)', true),
      y: scale('left', -30, 12, dbTicksCmp, dbMajorCmp, true, ML, 6, 'Magnitude (dB)', true)
    }
  }});
})();

// ================= PANEL e (scatter matrix) =================
const colL = [875, 1021, 1166], rowT = [63, 219, 377], SW = 108, SH = 108;
const scatterData = [[sSensM1, sSensVs, sSensM2], [sFbwM1, sFbwVs, sFbwM2], [sFcM1, sFcVs, sFcM2]];
const scatterCore = [[coreSensM1, coreSensVs, coreSensM2], [coreFbwM1, coreFbwVs, coreFbwM2], [coreFcM1, coreFcVs, coreFcM2]];
const xR = [xRangeM1, xRangeVs, xRangeM2], xT = [xTickM1, xTickVs, xTickM2];
const yR = [yRangeSens, yRangeFbw, yRangeFc], yT = [yTickSens, yTickFbw, yTickFc];
for (let r = 0; r < 3; r++) for (let c = 0; c < 3; c++) {
  const L = colL[c], T = rowT[r];
  const cv = mkCanvas(L - 30, T - 8, SW + 42, SH + 30);
  const pts = rows(scatterCore[r][c]).concat(pairs(scatterData[r][c]));
  new Chart(cv, {type: 'scatter', data: {datasets: [{data: pts, pointRadius: 3, borderWidth: 1.3,
      borderColor: 'rgba(0,114,189,0.75)', backgroundColor: 'rgba(0,0,0,0)', clip: false}]},
    options: {responsive: false, animation: false, events: [], devicePixelRatio: 1,
      layout: {padding: {top: 8, right: 12}},
      plugins: {legend: {display: false}, tooltip: {enabled: false}, boxp: {frame: true, mirror: true, allMajor: true}},
      scales: {
        x: scale('bottom', xR[c][0], xR[c][1], xT[c], xT[c], r === 2, 22, 4, null, false),
        y: scale('left', yR[r][0], yR[r][1], yT[r], yT[r], c === 0, 30, 5, null, false)
      }
    }});
  txt('r = ' + rValues[r][c], L + SW / 2, [52, 208, 365][r], 'rr');
}

// ================= TEXT =================
txt('(a)', 7, 22, 'let'); txt('Bare stack', 212, 21, 'ttl');
txt('(b)', 425, 18, 'let'); txt('\u03bb/4 matching', 613, 18, 'ttl');
txt('(c)', 8, 286, 'let'); txt('Optimized', 212, 287, 'ttl');
txt('(d)', 423, 287, 'let'); txt('Comparison', 613, 287, 'ttl');
txt('(e)', 823, 18, 'let'); txt('Correlation KPIs / parameters', 1072, 18, 'ttl');

txt('Voltage (mV)', 393, 143, 'lab rot');
txt('Voltage (mV)', 787, 137, 'lab rot');
txt('Voltage (mV)', 393, 410, 'lab rot');

txt('f<sub>C</sub> = ' + fcBare.toFixed(1) + ' MHz', 251, 177, 'ann');
txt('FBW = 72%', 251, 200, 'ann');
txt('FOM = 166', 478, 187, 'ann');
txt('f<sub>C</sub> = ' + fcQw.toFixed(1) + ' MHz', 650, 171, 'ann');
txt('FBW = 95%', 641, 193, 'ann');
txt('FOM = 1503', 83, 460, 'ann');
txt('f<sub>C</sub> = ' + fcOpt.toFixed(1) + ' MHz', 255, 444, 'ann');
txt('FBW = 76%', 254, 467, 'ann');

txt(peakOpt.toFixed(2) + 'dB', 468, 348, 'ann', 'font-size:14px;color:#333;');
txt(peakQw.toFixed(2) + 'dB', 707, 359, 'ann', 'font-size:14px;color:#333;');

// legend (d)
(function () {
  const leg = document.createElement('div'); leg.id = 'leg';
  leg.style.left = '549px'; leg.style.top = '410px'; leg.style.width = '137px'; leg.style.height = '61px';
  const cols = [BLUE, RED, YEL], dashes = ['', '6,4', '7,2.5,1.5,2.5'];
  const tops = [3, 22, 41];
  seriesNames.forEach((n, i) => {
    const row = document.createElement('div'); row.className = 'row'; row.style.top = tops[i] + 'px'; row.style.width = '135px';
    row.innerHTML = '<svg width="42" height="10"><line x1="0" y1="5" x2="42" y2="5" stroke="' + cols[i] +
      '" stroke-width="1.8" stroke-dasharray="' + dashes[i] + '"/></svg><span>' + n + '</span>';
    leg.appendChild(row);
  });
  document.body.appendChild(leg);
})();

// scatter axis labels
txt('\u0394Sensitivity (%)', 851, 117, 'lab rot');
txt('\u0394FBW (%)', 846, 273, 'lab rot');
txt('\u0394f<sub>C</sub> (%)', 845, 430, 'lab rot');
txt('\u0394t<sub>M1</sub> (\u03bcm)', 931, 517, 'lab');
txt('\u0394v<sub>S</sub> (%)', 1073, 517, 'lab');
txt('\u0394t<sub>M2</sub> (\u03bcm)', 1213, 517, 'lab');
</script>
</body></html>
